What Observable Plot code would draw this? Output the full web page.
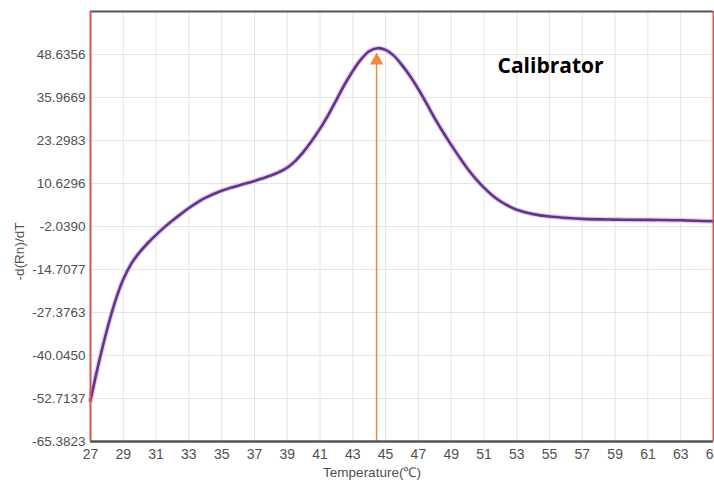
<!DOCTYPE html>
<html><head><meta charset="utf-8">
<script src="https://cdn.jsdelivr.net/npm/d3@7"></script>
<script src="https://cdn.jsdelivr.net/npm/@observablehq/plot@0.6"></script>
<style>body{margin:0;background:#fff} svg{display:block}</style>
</head><body><div id="chart"></div>
<script>
const temps  = [27, 27.5, 28, 28.5, 29, 29.5, 30, 30.5, 31, 31.5, 32, 32.5, 33, 33.5, 34, 35, 36, 37, 38, 38.5, 39, 39.5, 40, 40.5, 41, 41.5, 42, 42.5, 43, 43.5, 44, 44.5, 45, 45.5, 46, 46.5, 47, 47.5, 48, 48.5, 49, 49.5, 50, 50.5, 51, 51.5, 52, 52.5, 53, 54, 55, 56, 57, 59, 61, 63, 65];
const values = [-53.3, -42.3, -32.6, -24.2, -17.6, -12.9, -9.6, -6.9, -4.5, -2.3, -0.3, 1.6, 3.4, 5.0, 6.4, 8.5, 10.0, 11.4, 13.0, 14.0, 15.3, 17.3, 20.0, 23.2, 26.8, 30.8, 35.3, 39.8, 43.8, 47.2, 49.6, 50.5, 50.0, 48.3, 45.5, 42.2, 38.4, 34.2, 29.8, 25.8, 22.0, 18.4, 15.0, 12.0, 9.4, 7.2, 5.4, 4.0, 2.9, 1.6, 0.9, 0.5, 0.2, 0.0, -0.1, -0.2, -0.5];
const yTicks = [48.6356, 35.9669, 23.2983, 10.6296, -2.0390, -14.7077, -27.3763, -40.0450, -52.7137, -65.3823];
const xTicks = [27, 29, 31, 33, 35, 37, 39, 41, 43, 45, 47, 49, 51, 53, 55, 57, 59, 61, 63, 65];
const yDomain = [-65.3823, 61.3043];
const xDomain = [27, 65];
const peakTemp = 44.45;
const arrowTip = 48.9;
const annotation = "Calibrator";
const xLabel = "Temperature(℃)";
const yLabel = "-d(Rn)/dT";

const data = temps.map((t, i) => ({t, v: values[i]}));
const tickFont = "'Liberation Sans', Arial, sans-serif";

const chart = Plot.plot({
  width: 714, height: 483,
  marginLeft: 90, marginRight: 1, marginTop: 11, marginBottom: 42,
  x: {domain: xDomain},
  y: {domain: yDomain},
  style: {fontFamily: tickFont, background: "#fff"},
  marks: [
    Plot.gridX(xTicks, {stroke: "#e4e4e4", strokeOpacity: 1, strokeWidth: 1}),
    Plot.gridY(yTicks, {stroke: "#e4e4e4", strokeOpacity: 1, strokeWidth: 1}),
    Plot.axisY(yTicks, {tickSize: 0, tickPadding: 5, tickFormat: d => d.toFixed(4), fontSize: 13.5, fill: "#505050", label: null}),
    Plot.axisX(xTicks, {tickSize: 0, tickPadding: 8, fontSize: 14, fill: "#505050", label: null}),
    Plot.line(data, {x: "t", y: "v", stroke: "#ecc4f4", strokeWidth: 5, curve: "catmull-rom"}),
    Plot.line(data, {x: "t", y: "v", stroke: "#5a3a84", strokeWidth: 2.6, curve: "catmull-rom"}),
    Plot.ruleX([{t: peakTemp, v: arrowTip}], {x: "t", y1: yDomain[0], y2: "v", stroke: "#f08a3e", strokeWidth: 1.5}),
    Plot.dot([{t: peakTemp, v: arrowTip}], {x: "t", y: "v", symbol: "triangle", r: 5, fill: "#f08a3e", stroke: "none", dy: 7}),
    Plot.ruleY([yDomain[1]], {stroke: "#555", strokeWidth: 2}),
    Plot.ruleY([yDomain[0]], {stroke: "#555", strokeWidth: 2.5}),
    Plot.ruleX([xDomain[0]], {stroke: "#d9534f", strokeWidth: 2}),
    Plot.ruleX([xDomain[1]], {stroke: "#d9534f", strokeWidth: 2}),
    Plot.text([annotation], {text: d => d, frameAnchor: "top-right", textAnchor: "start", lineAnchor: "middle", dx: -216, dy: 55, fontSize: 21, fontWeight: "bold", fontFamily: "'Open Sans', 'Liberation Sans', sans-serif", fill: "#000"}),
    Plot.text([xLabel], {text: d => d, frameAnchor: "bottom", lineAnchor: "middle", dx: -30, dy: 31, fontSize: 13.5, fill: "#505050"}),
    Plot.text([yLabel], {text: d => d, frameAnchor: "left", rotate: -90, lineAnchor: "middle", textAnchor: "middle", dx: -71, dy: 25, fontSize: 13.5, fill: "#505050"})
  ]
});
document.getElementById("chart").appendChild(chart);
</script>
</body></html>
